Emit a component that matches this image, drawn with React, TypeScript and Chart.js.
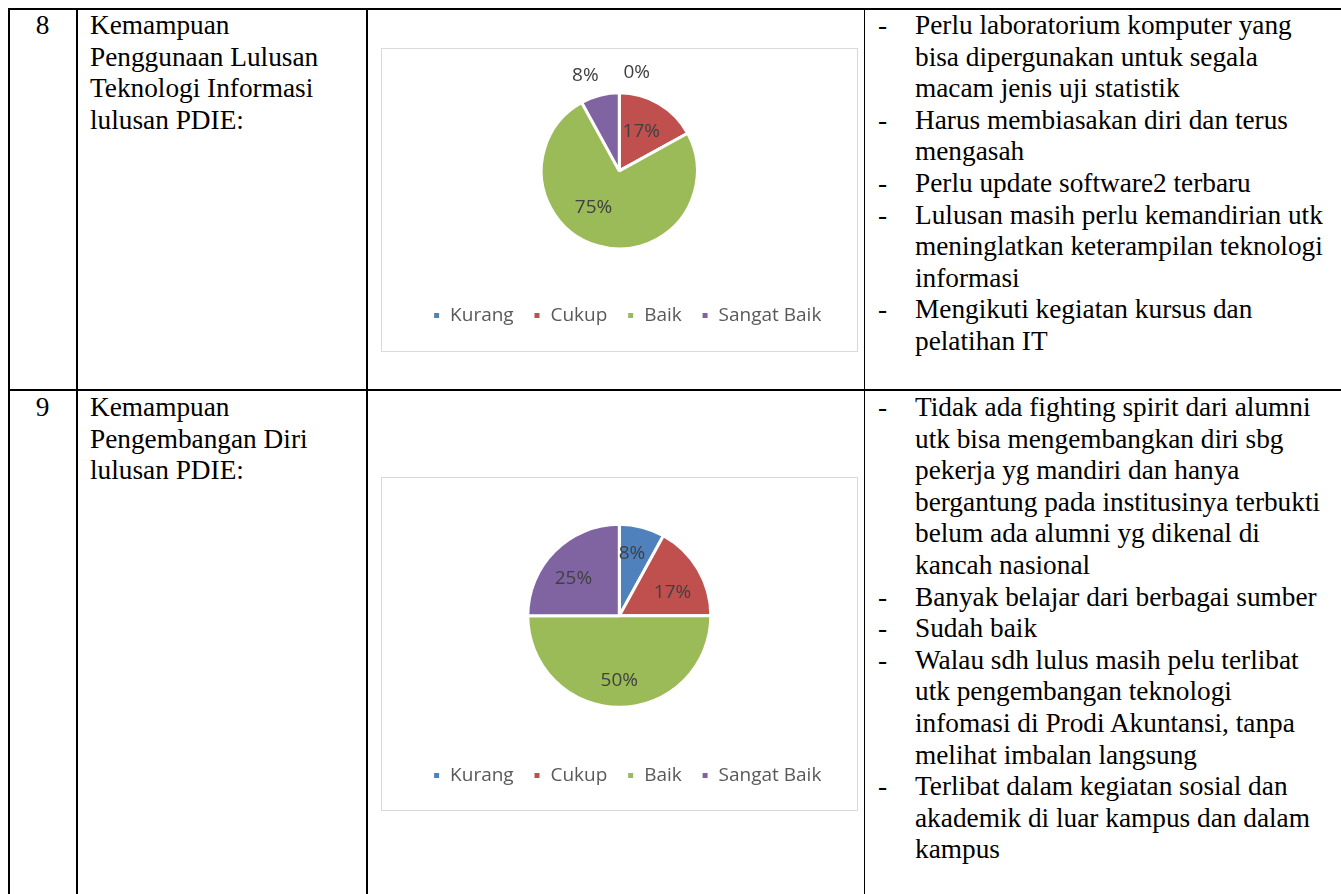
import React, { useEffect, useRef } from 'react';
import { Chart, registerables } from 'chart.js';
Chart.register(...registerables);

// ---------- data ----------
const categories = ['Kurang', 'Cukup', 'Baik', 'Sangat Baik'];
const techValues = [0, 17, 75, 8];
const selfDevValues = [8, 17, 50, 25];
const sliceColors = ['#4F81BD', '#C0504D', '#9BBB59', '#8064A2'];

const row8Number = '8';
const row8Title = ['Kemampuan', 'Penggunaan Lulusan', 'Teknologi Informasi', 'lulusan PDIE:'];
const row8Notes = [
  ['Perlu laboratorium komputer yang', 'bisa dipergunakan untuk segala', 'macam jenis uji statistik'],
  ['Harus membiasakan diri dan terus', 'mengasah'],
  ['Perlu update software2 terbaru'],
  ['Lulusan masih perlu kemandirian utk', 'meninglatkan keterampilan teknologi', 'informasi'],
  ['Mengikuti kegiatan kursus dan', 'pelatihan IT'],
];

const row9Number = '9';
const row9Title = ['Kemampuan', 'Pengembangan Diri', 'lulusan PDIE:'];
const row9Notes = [
  ['Tidak ada fighting spirit dari alumni', 'utk bisa mengembangkan diri sbg', 'pekerja yg mandiri dan hanya', 'bergantung pada institusinya terbukti', 'belum ada alumni yg dikenal di', 'kancah nasional'],
  ['Banyak belajar dari berbagai sumber'],
  ['Sudah baik'],
  ['Walau sdh lulus masih pelu terlibat', 'utk pengembangan teknologi', 'infomasi di Prodi Akuntansi, tanpa', 'melihat imbalan langsung'],
  ['Terlibat dalam kegiatan sosial dan', 'akademik di luar kampus dan dalam', 'kampus'],
];

// ---------- style ----------
const techLabelPlace = [
  { r: 1.29, da: 10 },
  { r: 0.59, da: -2 },
  { r: 0.56, da: 20 },
  { r: 1.31, da: -5 },
];
const selfLabelPlace = [
  { r: 0.7, da: -3 },
  { r: 0.64, da: 6 },
  { r: 0.7, da: 0 },
  { r: 0.655, da: -5 },
];

const SERIF = '"Liberation Serif", "Times New Roman", serif';
const SANS = '"Open Sans", sans-serif';
const LINE_H = 31.6;
const FONT_SZ = 27.3;

const pctLabelPlugin = {
  id: 'pctLabels',
  afterDatasetsDraw(chart: any, _args: any, opts: any) {
    const { ctx } = chart;
    const meta = chart.getDatasetMeta(0);
    const data = chart.data.datasets[0].data as number[];
    const total = data.reduce((a, b) => a + b, 0);
    ctx.save();
    ctx.font = '19px ' + SANS;
    ctx.fillStyle = '#404040';
    ctx.textAlign = 'center';
    ctx.textBaseline = 'middle';
    meta.data.forEach((arc: any, i: number) => {
      const p = arc.getProps(['x', 'y', 'startAngle', 'endAngle', 'outerRadius'], true);
      const place = opts.place[i];
      const mid = (p.startAngle + p.endAngle) / 2 + (place.da * Math.PI) / 180;
      const r = p.outerRadius * place.r;
      ctx.fillText(
        Math.round((data[i] / total) * 100) + '%',
        p.x + Math.cos(mid) * r,
        p.y + Math.sin(mid) * r + 1
      );
    });
    ctx.restore();
  },
};

type PieProps = {
  values: number[];
  radius: number;
  left: number;
  top: number;
  width: number;
  height: number;
  place: { r: number; da: number }[];
};

function PieChart({ values, radius, left, top, width, height, place }: PieProps) {
  const ref = useRef<HTMLCanvasElement | null>(null);
  useEffect(() => {
    if (!ref.current) return;
    const chart = new Chart(ref.current, {
      type: 'pie',
      data: {
        labels: categories,
        datasets: [
          {
            data: values,
            backgroundColor: sliceColors,
            borderColor: '#ffffff',
            borderWidth: 3,
          },
        ],
      },
      options: {
        responsive: false,
        animation: false,
        events: [],
        radius: radius,
        layout: { padding: 0 },
        plugins: {
          // empty spacer on the right so the pie sits slightly left of the legend centre
          title: {
            display: true,
            text: '',
            position: 'right',
            font: { size: 10, lineHeight: 1.2 },
            padding: 1.7,
          },
          legend: {
            position: 'bottom',
            align: 'center',
            labels: {
              boxWidth: 8,
              boxHeight: 8,
              padding: 19.3,
              color: '#595959',
              font: { family: SANS, size: 19 },
            },
          },
          tooltip: { enabled: false },
          pctLabels: { place },
        },
      } as any,
      plugins: [pctLabelPlugin as any],
    });
    return () => chart.destroy();
  }, []);
  return (
    <canvas
      ref={ref}
      width={width}
      height={height}
      style={{ position: 'absolute', left, top, width, height }}
    />
  );
}

function HLine({ x1, x2, y, w, color = '#000' }: any) {
  return <div style={{ position: 'absolute', left: x1, top: y, width: x2 - x1, height: w, background: color }} />;
}
function VLine({ x, y1, y2, w, color = '#000' }: any) {
  return <div style={{ position: 'absolute', left: x, top: y1, width: w, height: y2 - y1, background: color }} />;
}

function Lines({ lines, left, top }: { lines: string[]; left: number; top: number }) {
  return (
    <div
      style={{
        position: 'absolute',
        left,
        top,
        fontFamily: SERIF,
        fontSize: FONT_SZ,
        lineHeight: LINE_H + 'px',
        whiteSpace: 'pre',
        color: '#000',
      }}
    >
      {lines.map((l, i) => (
        <div key={i}>{l}</div>
      ))}
    </div>
  );
}

function Notes({ notes, top }: { notes: string[][]; top: number }) {
  const rows: { dash: boolean; text: string }[] = [];
  notes.forEach((n) => n.forEach((t, i) => rows.push({ dash: i === 0, text: t })));
  return (
    <div
      style={{
        position: 'absolute',
        left: 878,
        top,
        fontFamily: SERIF,
        fontSize: FONT_SZ,
        lineHeight: LINE_H + 'px',
        whiteSpace: 'pre',
        color: '#000',
      }}
    >
      {rows.map((r, i) => (
        <div key={i} style={{ position: 'relative', height: LINE_H }}>
          {r.dash ? <span style={{ position: 'absolute', left: 0 }}>-</span> : null}
          <span style={{ position: 'absolute', left: 37 }}>{r.text}</span>
        </div>
      ))}
    </div>
  );
}

function ChartBox({ left, top, width, height }: any) {
  return (
    <div
      style={{
        position: 'absolute',
        left,
        top,
        width: width - 2,
        height: height - 2,
        border: '1px solid #D9D9D9',
        background: '#fff',
      }}
    />
  );
}

export default function App() {
  return (
    <div
      style={{
        position: 'absolute',
        left: 0,
        top: 0,
        width: 1341,
        height: 894,
        overflow: 'hidden',
        background: '#fff',
      }}
    >
      {/* table borders */}
      <HLine x1={8} x2={1341} y={8} w={2} />
      <HLine x1={8} x2={1341} y={389} w={2} />
      <VLine x={8} y1={8} y2={894} w={1.5} />
      <VLine x={76} y1={8} y2={894} w={1.5} />
      <VLine x={366} y1={8} y2={894} w={1.5} />
      <VLine x={864} y1={8} y2={894} w={1.2} />

      {/* row 8 */}
      <div style={{ position: 'absolute', left: 9, width: 67, top: 10, textAlign: 'center', fontFamily: SERIF, fontSize: FONT_SZ, lineHeight: LINE_H + 'px' }}>
        {row8Number}
      </div>
      <Lines lines={row8Title} left={90} top={10} />
      <ChartBox left={381} top={48} width={477} height={304} />
      <PieChart values={techValues} radius={78} left={392} top={55} width={470} height={280} place={techLabelPlace} />
      <Notes notes={row8Notes} top={10} />

      {/* row 9 */}
      <div style={{ position: 'absolute', left: 9, width: 67, top: 392, textAlign: 'center', fontFamily: SERIF, fontSize: FONT_SZ, lineHeight: LINE_H + 'px' }}>
        {row9Number}
      </div>
      <Lines lines={row9Title} left={90} top={392} />
      <ChartBox left={381} top={477} width={477} height={334} />
      <PieChart values={selfDevValues} radius={91.5} left={392} top={485} width={470} height={310} place={selfLabelPlace} />
      <Notes notes={row9Notes} top={392} />
    </div>
  );
}
